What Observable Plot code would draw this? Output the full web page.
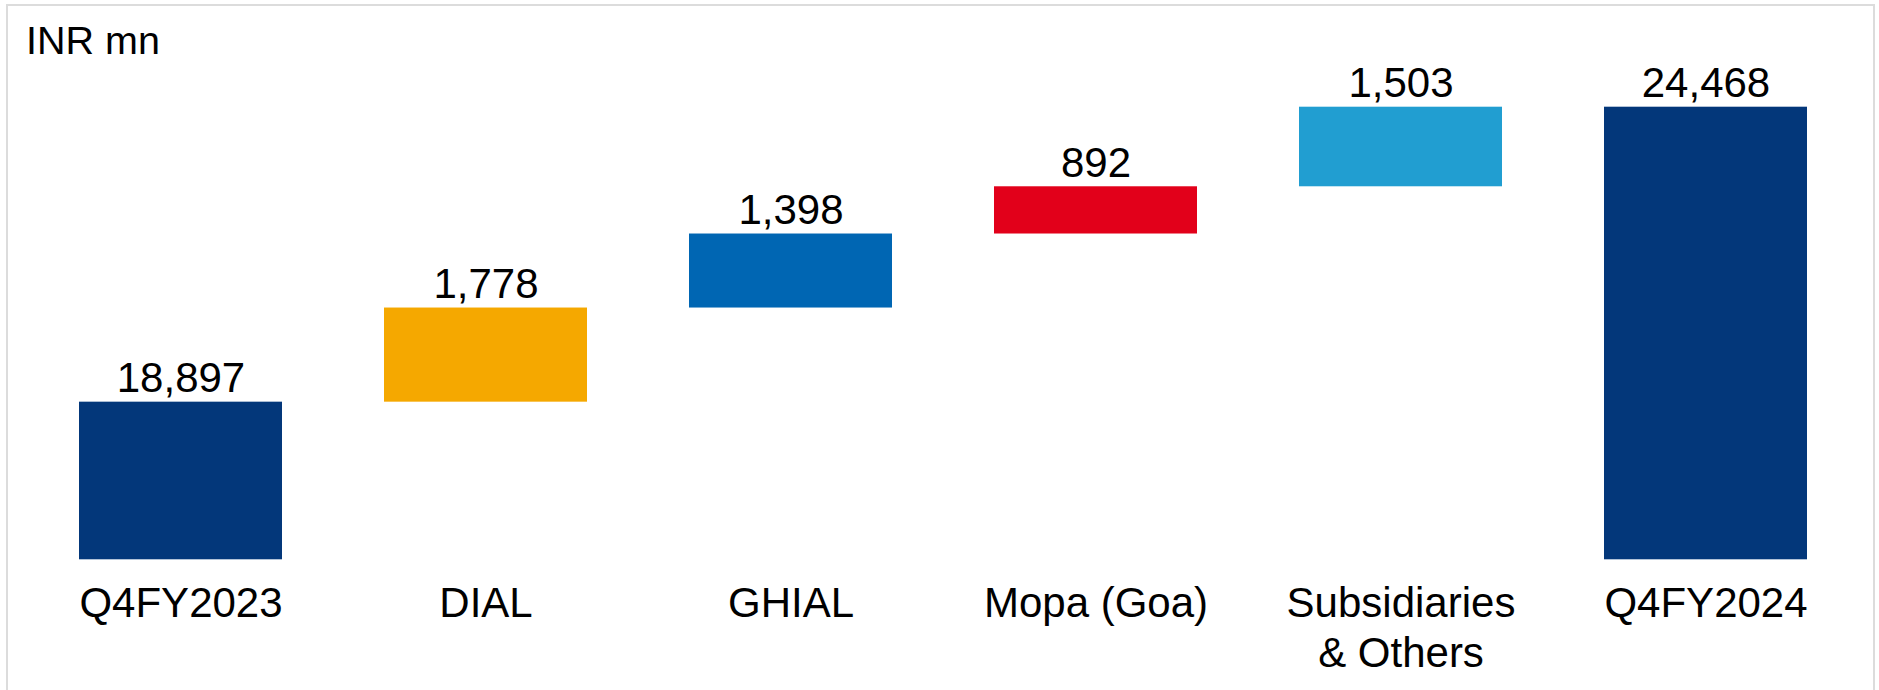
<!DOCTYPE html>
<html>
<head>
<meta charset="utf-8">
<script src="https://cdn.jsdelivr.net/npm/d3@7"></script>
<script src="https://cdn.jsdelivr.net/npm/@observablehq/plot@0.6"></script>
<style>
  html, body { margin: 0; padding: 0; background: #fff; overflow: hidden; }
  #wrap { position: relative; width: 1879px; height: 690px; font-family: "Liberation Sans", Arial, sans-serif; }
  #frame { position: absolute; left: 6px; top: 4px; width: 1869px; height: 720px; border: 2px solid #dcdcdc; box-sizing: border-box; pointer-events: none; }
  #unit { position: absolute; left: 26px; top: 20.5px; font-size: 39.5px; line-height: 39.5px; color: #000; }
  #chart { position: absolute; left: 0; top: 0; }
</style>
</head>
<body>
<div id="wrap">
  <div id="chart"></div>
  <div id="frame"></div>
  <div id="unit">INR mn</div>
</div>
<script>
const categories = ["Q4FY2023", "DIAL", "GHIAL", "Mopa (Goa)", "Subsidiaries\n& Others", "Q4FY2024"];
const values = [18897, 1778, 1398, 892, 1503, 24468];
const kinds = ["total", "delta", "delta", "delta", "delta", "total"];
const colors = ["#03377A", "#F5A800", "#0066B3", "#E2001A", "#219ED1", "#03377A"];
const yBase = 15920;

let running = 0;
const rows = categories.map((c, i) => {
  let y1, y2;
  if (kinds[i] === "total") { y1 = yBase; y2 = values[i]; running = values[i]; }
  else { y1 = running; y2 = running + values[i]; running = y2; }
  return { cat: c, y1, y2, value: values[i], color: colors[i] };
});

const fmt = d3.format(",");

const chart = Plot.plot({
  width: 1879,
  height: 690,
  marginLeft: 77.3,
  marginRight: 71,
  marginTop: 106.7,
  marginBottom: 130.7,
  style: { fontFamily: "'Liberation Sans', Arial, sans-serif", background: "transparent", color: "#000" },
  x: { domain: categories, paddingInner: 0.334, paddingOuter: 0, axis: null },
  y: { domain: [yBase, 24468], axis: null },
  color: { type: "identity" },
  marks: [
    Plot.barY(rows, { x: "cat", y1: "y1", y2: "y2", fill: "color", inset: 0 }),
    Plot.text(rows, { x: "cat", y: "y2", text: d => fmt(d.value), lineAnchor: "bottom", dy: -10, fontSize: 42, fill: "#000" }),
    Plot.text(rows, { x: "cat", text: "cat", frameAnchor: "bottom", lineAnchor: "top", dy: 21.3, fontSize: 42, lineHeight: 1.19, fill: "#000" })
  ]
});
document.getElementById("chart").appendChild(chart);
</script>
</body>
</html>
